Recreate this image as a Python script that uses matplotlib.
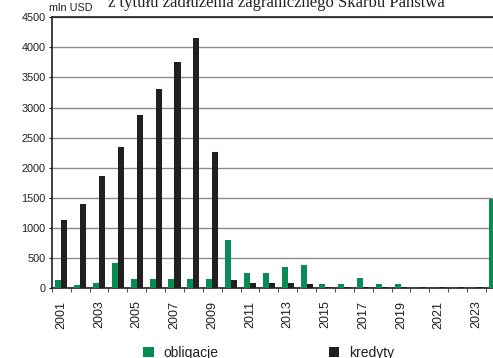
import matplotlib
matplotlib.use("Agg")
import matplotlib.pyplot as plt
import numpy as np

years = list(range(2001, 2025))
obligacje = [140, 50, 90, 420, 150, 150, 150, 150, 150, 800, 250, 250, 350, 380,
             70, 70, 170, 70, 70, 5, 5, 5, 5, 1480]
kredyty = [1130, 1390, 1860, 2350, 2880, 3300, 3750, 4160, 2260, 140, 80, 80, 80, 65,
           15, 15, 15, 15, 10, 10, 10, 10, 10, 0]
tick_labels = [str(y) if (y - 2001) % 2 == 0 else "" for y in years]

GREEN = "#078c55"
BLACK = "#231f20"

plt.rcParams["font.family"] = ["Liberation Sans", "DejaVu Sans"]

fig = plt.figure(figsize=(4.93, 3.58), dpi=100)
ax = fig.add_axes([0.105, 0.1955, 0.919, 0.7562])

x = np.arange(len(years))
w = 0.32
ax.bar(x - w / 2, obligacje, width=w, color=GREEN, label="obligacje", zorder=3)
ax.bar(x + w / 2, kredyty, width=w, color=BLACK, label="kredyty", zorder=3)

ax.set_xlim(-0.5, len(years) - 0.5)
ax.set_ylim(0, 4500)
ax.set_yticks(np.arange(0, 4501, 500))
ax.tick_params(axis="y", labelsize=7.8, length=2.5, width=0.8, pad=2, colors="#231f20")

ax.set_xticks(x)
ax.set_xticklabels(tick_labels, rotation=90, fontsize=9)
ax.tick_params(axis="x", length=0, pad=9, colors="#231f20")
ax.set_xticks(np.arange(-0.5, len(years), 1), minor=True)
ax.tick_params(axis="x", which="minor", length=3, width=0.8, color="#555555")

ax.grid(axis="y", color="#8a8a8a", linewidth=1.0, zorder=0)
for s in ["left", "bottom", "top"]:
    ax.spines[s].set_color("#231f20")
    ax.spines[s].set_linewidth(1.2)
ax.spines["right"].set_visible(False)

fig.text(0.099, 0.978, "mln USD", fontsize=7.8, ha="left", va="center", color="#231f20")
fig.text(0.56, 0.992, "z tytułu zadłużenia zagranicznego Skarbu Państwa",
         fontsize=12, ha="center", va="center", family="Liberation Serif", color="#231f20")

fig.legend(loc="center", bbox_to_anchor=(0.545, 0.015), ncol=2, frameon=False,
           fontsize=10, handlelength=0.75, handleheight=0.75, columnspacing=7.95,
           handletextpad=0.7, labelcolor="#231f20")

fig.savefig("out.png", dpi=100)
